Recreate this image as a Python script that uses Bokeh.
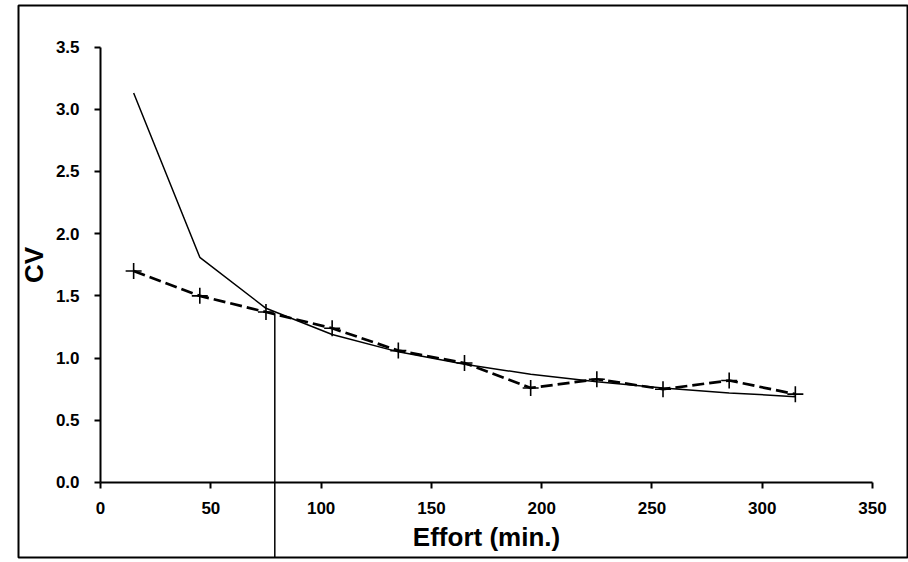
from bokeh.plotting import figure
from bokeh.models import Range1d, FixedTicker, NumeralTickFormatter
from bokeh.embed import file_html
from bokeh.resources import INLINE

# ---- data ----
effort = [15, 45, 75, 105, 135, 165, 195, 225, 255, 285, 315]
cv_fitted = [3.13, 1.81, 1.40, 1.19, 1.05, 0.95, 0.87, 0.81, 0.76, 0.72, 0.69]
cv_observed = [1.70, 1.50, 1.37, 1.24, 1.06, 0.96, 0.76, 0.83, 0.75, 0.82, 0.71]
cutoff_effort = 79
cutoff_cv = 1.36
x_ticks = [0, 50, 100, 150, 200, 250, 300, 350]
y_ticks = [0.0, 0.5, 1.0, 1.5, 2.0, 2.5, 3.0, 3.5]

FONT = "Liberation Sans"

p = figure(
    width=908, height=562,
    x_range=Range1d(-37.2, 366.3),
    y_range=Range1d(-0.603, 3.834),
    output_backend="svg", toolbar_location=None,
    min_border_left=18, min_border_right=0,
    min_border_top=5, min_border_bottom=5,
)
p.background_fill_color = "white"
p.border_fill_color = "white"
p.outline_line_color = "black"
p.outline_line_width = 2
p.xgrid.visible = False
p.ygrid.visible = False

for ax in (p.xaxis[0], p.yaxis[0]):
    ax.fixed_location = 0
    ax.axis_line_width = 2
    ax.major_tick_line_width = 2
    ax.major_tick_out = 6
    ax.major_tick_in = 0
    ax.minor_tick_out = 0
    ax.minor_tick_in = 0
    ax.major_label_text_font = FONT
    ax.major_label_text_font_style = "bold"
    ax.major_label_text_font_size = "17px"
    ax.major_label_text_color = "black"
    ax.axis_label_text_font = FONT
    ax.axis_label_text_font_style = "bold"
    ax.axis_label_text_font_size = "26px"
    ax.axis_label_text_color = "black"

p.xaxis.bounds = (x_ticks[0], x_ticks[-1])
p.yaxis.bounds = (y_ticks[0], y_ticks[-1])
p.xaxis.ticker = FixedTicker(ticks=x_ticks)
p.yaxis.ticker = FixedTicker(ticks=y_ticks)
p.yaxis.formatter = NumeralTickFormatter(format="0.0")
p.xaxis.major_label_standoff = 14
p.yaxis.major_label_standoff = 15
p.xaxis.axis_label = "Effort (min.)"
p.yaxis.axis_label = "CV"
p.xaxis.axis_label_standoff = 4
p.yaxis.axis_label_standoff = 4

# fitted curve (solid)
p.line(effort, cv_fitted, line_color="black", line_width=1.5)
# observed CV (dashed with + markers)
p.line(effort, cv_observed, line_color="black", line_width=2.7, line_dash="12 5")
p.scatter(effort, cv_observed, marker="cross", size=16, line_color="black", line_width=1.6)
# cutoff vertical line
p.segment(x0=[cutoff_effort], y0=[cutoff_cv], x1=[cutoff_effort], y1=[-1.0],
          line_color="black", line_width=1.5)

open("out.html", "w").write(file_html(p, INLINE))
